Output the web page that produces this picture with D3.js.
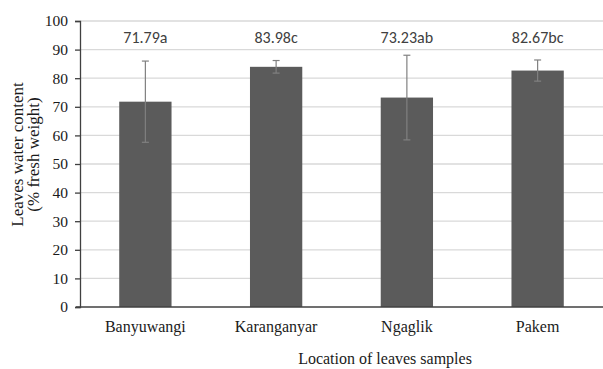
<!DOCTYPE html>
<html>
<head>
<meta charset="utf-8">
<script src="https://cdn.jsdelivr.net/npm/d3@7"></script>
<style>
  html, body { margin: 0; padding: 0; background: #fff; }
  svg { display: block; }
</style>
</head>
<body>
<svg id="chart" width="603" height="369"></svg>
<script>
// Leaf water content by sampling location (mean ± SD)
const locations = ["Banyuwangi", "Karanganyar", "Ngaglik", "Pakem"];
const meanValues = [71.79, 83.98, 73.23, 82.67];
const sdValues = [14.2, 2.2, 14.8, 3.7];
const groupLetters = ["a", "c", "ab", "bc"];
const yTicks = [0, 10, 20, 30, 40, 50, 60, 70, 80, 90, 100];

const SERIF = '"Liberation Serif"';
const SANS = '"Carlito"';

const svg = d3.select("#chart");
const margin = { left: 80, right: 0, top: 21, bottom: 62 };
const width = 603, height = 369;

const x = d3.scaleBand()
  .domain(locations)
  .range([margin.left, 603])
  .paddingInner(0.6)
  .paddingOuter(0.3);

const y = d3.scaleLinear()
  .domain([0, 100])
  .range([height - margin.bottom, margin.top]);

// horizontal gridlines
svg.append("g")
  .selectAll("line")
  .data(yTicks.filter(d => d > 0))
  .join("line")
  .attr("x1", margin.left)
  .attr("x2", width)
  .attr("y1", d => y(d))
  .attr("y2", d => y(d))
  .attr("stroke", "#d9d9d9")
  .attr("stroke-width", 1.3);

// bars
svg.append("g")
  .selectAll("rect")
  .data(locations)
  .join("rect")
  .attr("x", d => x(d))
  .attr("width", x.bandwidth())
  .attr("y", (d, i) => y(meanValues[i]))
  .attr("height", (d, i) => y(0) - y(meanValues[i]))
  .attr("fill", "#5b5b5b");

// error bars
const err = svg.append("g")
  .attr("stroke", "#808080")
  .attr("stroke-width", 1.2);
locations.forEach((loc, i) => {
  const cx = x(loc) + x.bandwidth() / 2;
  const hi = y(meanValues[i] + sdValues[i]);
  const lo = y(meanValues[i] - sdValues[i]);
  err.append("line").attr("x1", cx).attr("x2", cx).attr("y1", hi).attr("y2", lo);
  err.append("line").attr("x1", cx - 3.5).attr("x2", cx + 3.5).attr("y1", hi).attr("y2", hi);
  err.append("line").attr("x1", cx - 3.5).attr("x2", cx + 3.5).attr("y1", lo).attr("y2", lo);
});

// value labels
svg.append("g")
  .selectAll("text")
  .data(locations)
  .join("text")
  .attr("x", d => x(d) + x.bandwidth() / 2)
  .attr("y", y(92.4))
  .attr("text-anchor", "middle")
  .style("font-family", SANS)
  .style("font-size", "16px")
  .attr("fill", "#404040")
  .text((d, i) => meanValues[i].toFixed(2) + groupLetters[i]);

// y axis
const yAxis = svg.append("g")
  .attr("transform", `translate(${margin.left},0)`)
  .call(d3.axisLeft(y).tickValues(yTicks).tickSize(5).tickPadding(7));
yAxis.select(".domain").attr("stroke", "#404040").attr("stroke-width", 1.3);
yAxis.selectAll(".tick line").attr("stroke", "#404040").attr("stroke-width", 1.3);
yAxis.selectAll(".tick text")
  .style("font-family", SERIF)
  .style("font-size", "15.5px")
  .attr("fill", "#1a1a1a");

// x axis
const xAxis = svg.append("g")
  .attr("transform", `translate(0,${y(0)})`)
  .call(d3.axisBottom(x).tickSize(0).tickPadding(14));
xAxis.select(".domain").attr("stroke", "#404040").attr("stroke-width", 1.5)
  .attr("d", `M${margin.left - 4},0H${width}`);
xAxis.selectAll(".tick text")
  .style("font-family", SERIF)
  .style("font-size", "16px")
  .attr("fill", "#1a1a1a");

// axis titles
svg.append("text")
  .attr("x", 385)
  .attr("y", 364)
  .attr("text-anchor", "middle")
  .style("font-family", SERIF)
  .style("font-size", "16px")
  .attr("fill", "#1a1a1a")
  .text("Location of leaves samples");

const yTitle = svg.append("text")
  .attr("transform", "translate(0,154.5) rotate(-90)")
  .attr("text-anchor", "middle")
  .style("font-family", SERIF)
  .style("font-size", "17px")
  .attr("fill", "#1a1a1a");
yTitle.append("tspan").attr("x", 0).attr("y", 22.5).text("Leaves water content");
yTitle.append("tspan").attr("x", 0).attr("y", 38.5).text("(% fresh weight)");
</script>
</body>
</html>
